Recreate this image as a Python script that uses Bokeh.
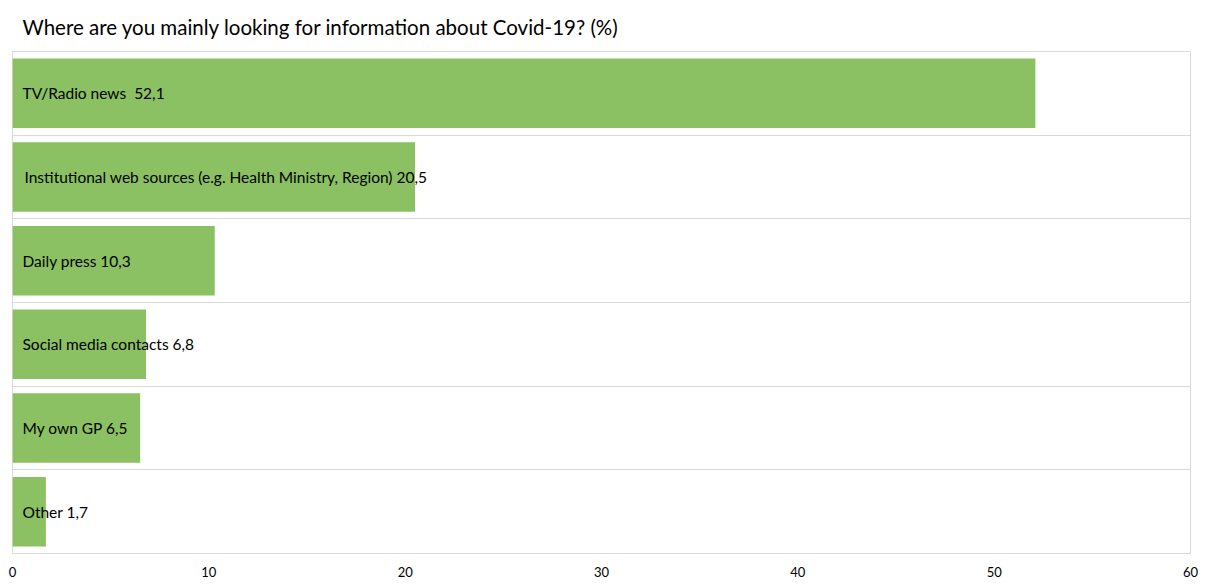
from bokeh.plotting import figure
from bokeh.models import ColumnDataSource, FixedTicker, Range1d
from bokeh.core.properties import value
from bokeh.embed import file_html
from bokeh.resources import INLINE

categories = ["TV/Radio news\u00a0", "Institutional web sources (e.g. Health Ministry, Region)",
              "Daily press", "Social media contacts", "My own GP", "Other"]
values = [52.1, 20.5, 10.3, 6.8, 6.5, 1.7]
x_ticks = [0, 10, 20, 30, 40, 50, 60]

n = len(categories)
ypos = [n - i - 0.5 for i in range(n)]
labels = [f"{c} {str(v).replace('.', ',')}" for c, v in zip(categories, values)]
xoff = [12 if c.startswith("Institutional") else 10 for c in categories]

src = ColumnDataSource(dict(cat=categories, val=values, y=ypos, label=labels, xoff=xoff))

p = figure(width=1207, height=579, output_backend="svg", toolbar_location=None,
           x_range=Range1d(0, 60), y_range=Range1d(0, n),
           title="Where are you mainly looking for information about Covid-19? (%)",
           min_border_left=12, min_border_right=17, min_border_bottom=26, min_border_top=50)

p.hbar(y="y", right="val", left=0, height=0.83, source=src,
       fill_color="#8BC063", line_color=None)
p.text(x=0, y="y", text="label", source=src, x_offset="xoff",
       text_baseline="middle", text_align="left",
       text_font=value("Lato"), text_font_size="15.5px", text_color="#000000")

p.title.text_font = "Lato"
p.title.text_font_size = "20.5px"
p.title.text_font_style = "normal"
p.title.text_color = "#000000"
p.title.offset = 10
p.title.standoff = 25

p.outline_line_color = "#D9D9D9"
p.outline_line_width = 1
p.background_fill_color = "white"
p.border_fill_color = "white"

p.yaxis.visible = False
p.xaxis.ticker = FixedTicker(ticks=x_ticks)
p.xaxis.axis_line_color = None
p.xaxis.major_tick_line_color = None
p.xaxis.minor_tick_line_color = None
p.xaxis.major_label_text_font = "Lato"
p.xaxis.major_label_text_font_size = "13px"
p.xaxis.major_label_text_color = "#000000"
p.xaxis.major_label_standoff = 7

p.xgrid.visible = False
p.ygrid.ticker = FixedTicker(ticks=list(range(n + 1)))
p.ygrid.grid_line_color = "#D9D9D9"

open("out.html", "w").write(file_html(p, INLINE))
